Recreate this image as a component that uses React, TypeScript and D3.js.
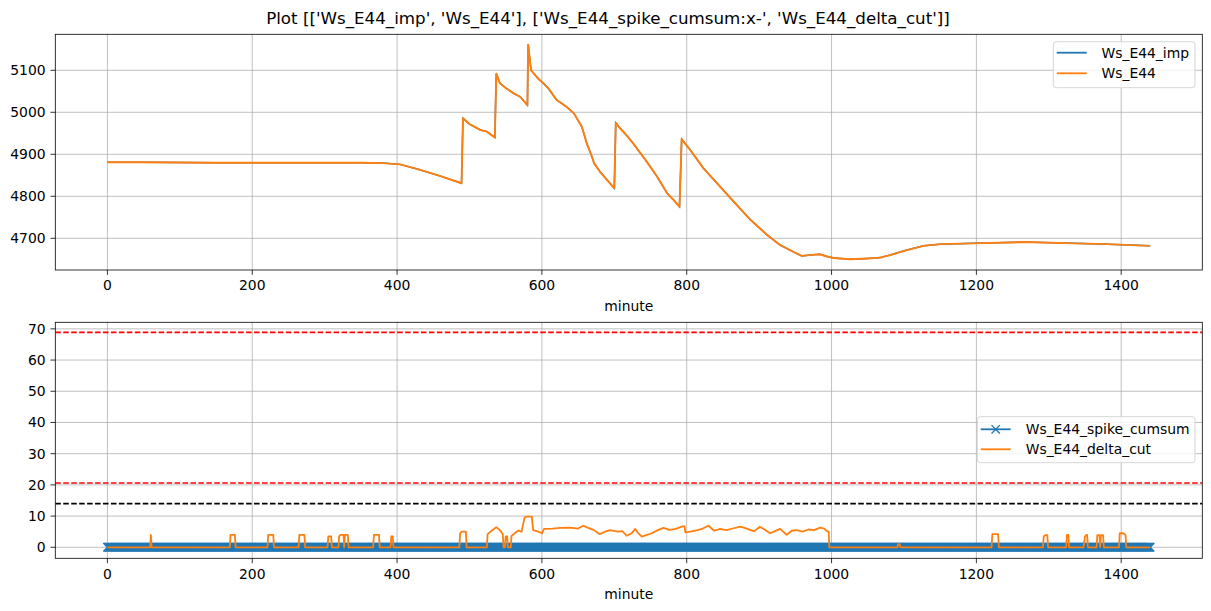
import React from "react";
import * as d3 from "d3";

// ---------- DATA ----------
const xTicks = [0, 200, 400, 600, 800, 1000, 1200, 1400];
const yTicksTop = [4700, 4800, 4900, 5000, 5100];
const yTicksBottom = [0, 10, 20, 30, 40, 50, 60, 70];

// Ws_E44 (and Ws_E44_imp, identical) — minute / value
const wsMinutes = [0, 50, 100, 150, 200, 250, 300, 350, 380, 404, 430, 460, 489, 491, 500, 515, 524, 535, 537, 542, 550, 561, 570, 580, 581, 585, 595, 602, 609, 620, 634, 644, 655, 662, 670, 672, 680, 692, 700, 702, 708, 717, 726, 745, 759, 773, 782, 790, 793, 805, 823, 842, 865, 888, 911, 929, 948, 959, 970, 984, 995, 1003, 1026, 1050, 1067, 1081, 1104, 1127, 1150, 1196, 1265, 1335, 1381, 1440];
const wsValues = [4881, 4881, 4880.5, 4880, 4880, 4880, 4880, 4880, 4879, 4876, 4864, 4848, 4831, 4986, 4972, 4958, 4954, 4940, 5092, 5069, 5058, 5045, 5037, 5017, 5161, 5100, 5080, 5069, 5057, 5030, 5013, 4998, 4966, 4926, 4890, 4879, 4859, 4835, 4819, 4975, 4962, 4945, 4926, 4882, 4847, 4807, 4791, 4775, 4936, 4910, 4867, 4831, 4787, 4744, 4708, 4684, 4667, 4658, 4660, 4662, 4656, 4653, 4650, 4652, 4654, 4660, 4672, 4682, 4686, 4688, 4691, 4688, 4686, 4682];

// Ws_E44_delta_cut — minute / value
const deltaMinutes = [0, 59, 60, 61, 169, 170, 176, 177, 221, 222, 229, 230, 264, 265, 272, 273, 304, 305, 309, 310, 319, 320, 322, 326, 327, 328, 332, 333, 367, 368, 375, 376, 391, 392, 394, 395, 486, 487, 489, 495, 496, 524, 525, 530, 537, 542, 546, 547, 549, 550, 552, 553, 557, 558, 563, 567, 572, 576, 578, 586, 588, 595, 600, 603, 615, 625, 639, 650, 657, 664, 672, 680, 687, 694, 705, 711, 717, 724, 729, 732, 738, 745, 752, 760, 768, 776, 785, 793, 797, 798, 805, 815, 822, 830, 838, 846, 855, 865, 874, 883, 893, 901, 908, 915, 922, 929, 938, 945, 952, 960, 968, 976, 984, 990, 994, 996, 997, 1091, 1092, 1094, 1095, 1221, 1222, 1230, 1231, 1292, 1293, 1295, 1298, 1299, 1324, 1325, 1327, 1328, 1348, 1350, 1352, 1353, 1354, 1366, 1367, 1370, 1371, 1372, 1375, 1376, 1397, 1398, 1403, 1406, 1407, 1440];
const deltaValues = [0, 0, 4, 0, 0, 4, 4, 0, 0, 4, 4, 0, 0, 4, 4, 0, 0, 3.5, 3.5, 0, 0, 3.5, 4, 4, 0, 4, 4, 0, 0, 4, 4, 0, 0, 3.5, 3.5, 0, 0, 4.5, 5, 5, 0, 0, 4.2, 5.2, 6.4, 5.5, 4.2, 0, 0, 3.5, 3.5, 0, 0, 3.6, 4.6, 5.3, 5.0, 9.5, 9.8, 9.8, 5.5, 5.0, 4.5, 5.9, 6.0, 6.2, 6.3, 6.0, 6.9, 6.2, 5.5, 4.2, 5.0, 5.5, 5.0, 5.2, 3.7, 4.5, 5.9, 4.8, 3.4, 4.0, 4.5, 5.5, 6.2, 5.6, 5.9, 6.6, 6.8, 4.8, 5.0, 5.5, 6.0, 6.9, 5.3, 5.9, 5.5, 6.1, 6.6, 6.0, 5.1, 6.6, 5.6, 4.5, 5.2, 5.9, 4.0, 5.3, 5.5, 5.0, 5.7, 5.5, 6.3, 6.0, 5.1, 5.0, 0, 0, 1, 1, 0, 0, 4.2, 4.2, 0, 0, 3.5, 3.9, 3.9, 0, 0, 4, 4, 0, 0, 3.5, 4, 4, 0, 0, 3.9, 3.9, 0, 3.9, 3.9, 0, 0, 4.5, 4.5, 3.9, 0, 0];

// Ws_E44_spike_cumsum — zero at every minute 0..1440
const spikeMinutes = d3.range(0, 1441);
const spikeValues = spikeMinutes.map(() => 0);

// horizontal reference lines
const redLevels = [68.9, 20.6];
const blackLevels = [14.0];

const titleText = "Plot [['Ws_E44_imp', 'Ws_E44'], ['Ws_E44_spike_cumsum:x-', 'Ws_E44_delta_cut']]";

// ---------- LAYOUT ----------
const W = 1211, H = 611;
const L = 55.3, R = 1202.3;
const topY0 = 34.3, topY1 = 270;
const botY0 = 322.3, botY1 = 558.3;
const FONT = "DejaVu Sans, sans-serif";
const FS = 13.9;
const BLUE = "#1f77b4", ORANGE = "#ff7f0e", GRID = "#b0b0b0";

const x = d3.scaleLinear().domain([-72, 1512]).range([L, R]);
const yTop = d3.scaleLinear().domain([4624.5, 5185.7]).range([topY1, topY0]);
const yBot = d3.scaleLinear().domain([-3.53, 72.1]).range([botY1, botY0]);

function Axes({ y, y0, y1, yTicks }: { y: d3.ScaleLinear<number, number>; y0: number; y1: number; yTicks: number[] }) {
  return (
    <g>
      {xTicks.map((t) => (
        <line key={"gx" + t} x1={x(t)} x2={x(t)} y1={y0} y2={y1} stroke={GRID} strokeWidth={0.8} />
      ))}
      {yTicks.map((t) => (
        <line key={"gy" + t} x1={L} x2={R} y1={y(t)} y2={y(t)} stroke={GRID} strokeWidth={0.8} />
      ))}
    </g>
  );
}

function Frame({ y, y0, y1, yTicks }: { y: d3.ScaleLinear<number, number>; y0: number; y1: number; yTicks: number[] }) {
  return (
    <g fontFamily={FONT} fontSize={FS} fill="#000">
      <rect x={L} y={y0} width={R - L} height={y1 - y0} fill="none" stroke="#000" strokeWidth={0.8} />
      {xTicks.map((t) => (
        <g key={"tx" + t}>
          <line x1={x(t)} x2={x(t)} y1={y1} y2={y1 + 4.86} stroke="#000" strokeWidth={0.8} />
          <text x={x(t)} y={y1 + 20.3} textAnchor="middle">{t}</text>
        </g>
      ))}
      {yTicks.map((t) => (
        <g key={"ty" + t}>
          <line x1={L - 4.86} x2={L} y1={y(t)} y2={y(t)} stroke="#000" strokeWidth={0.8} />
          <text x={L - 9.7} y={y(t) + 5} textAnchor="end">{t}</text>
        </g>
      ))}
      <text x={(L + R) / 2} y={y1 + 41} textAnchor="middle">minute</text>
    </g>
  );
}

export default function App() {
  const lineTop = d3.line<number>().x((_, i) => x(wsMinutes[i])).y((d) => yTop(d));
  const lineDelta = d3.line<number>().x((_, i) => x(deltaMinutes[i])).y((d) => yBot(d));
  const lineSpike = d3.line<number>().x((_, i) => x(spikeMinutes[i])).y((d) => yBot(d));
  const ms = 4.17;
  const markerPath = spikeValues
    .map((v, i) => {
      const cx = x(spikeMinutes[i]), cy = yBot(v);
      return `M${cx - ms},${cy - ms}L${cx + ms},${cy + ms}M${cx - ms},${cy + ms}L${cx + ms},${cy - ms}`;
    })
    .join("");

  return (
    <svg width={W} height={H} style={{ position: "absolute", left: 0, top: 0, background: "#fff" }}>
      <rect x={0} y={0} width={W} height={H} fill="#fff" />
      <text x={608} y={24} textAnchor="middle" fontFamily={FONT} fontSize={16.7}>{titleText}</text>

      {/* top axes */}
      <Axes y={yTop} y0={topY0} y1={topY1} yTicks={yTicksTop} />
      <defs>
        <clipPath id="clipTop"><rect x={L} y={topY0} width={R - L} height={topY1 - topY0} /></clipPath>
        <clipPath id="clipBot"><rect x={L} y={botY0} width={R - L} height={botY1 - botY0} /></clipPath>
      </defs>
      <g clipPath="url(#clipTop)">
        <path d={lineTop(wsValues) || ""} fill="none" stroke={BLUE} strokeWidth={1.5} />
        <path d={lineTop(wsValues) || ""} fill="none" stroke={ORANGE} strokeWidth={1.9} strokeLinejoin="round" />
      </g>
      <Frame y={yTop} y0={topY0} y1={topY1} yTicks={yTicksTop} />
      <g fontFamily={FONT} fontSize={FS}>
        <rect x={1053.3} y={41.7} width={141.7} height={46} rx={3} fill="#fff" fillOpacity={0.8} stroke="#cccccc" strokeWidth={0.8} />
        <line x1={1056.7} x2={1086.7} y1={52.7} y2={52.7} stroke={BLUE} strokeWidth={1.8} />
        <text x={1101.5} y={57.7}>Ws_E44_imp</text>
        <line x1={1056.7} x2={1086.7} y1={73.3} y2={73.3} stroke={ORANGE} strokeWidth={1.8} />
        <text x={1101.5} y={78.3}>Ws_E44</text>
      </g>

      {/* bottom axes */}
      <Axes y={yBot} y0={botY0} y1={botY1} yTicks={yTicksBottom} />
      <g clipPath="url(#clipBot)">
        <path d={lineSpike(spikeValues) || ""} fill="none" stroke={BLUE} strokeWidth={1.5} />
        <path d={markerPath} fill="none" stroke={BLUE} strokeWidth={1.39} />
        <path d={lineDelta(deltaValues) || ""} fill="none" stroke={ORANGE} strokeWidth={1.8} strokeLinejoin="round" />
        {redLevels.map((v) => (
          <line key={"r" + v} x1={L} x2={R} y1={yBot(v)} y2={yBot(v)} stroke="#ff0000" strokeWidth={1.7} strokeDasharray="5.55,2.4" />
        ))}
        {blackLevels.map((v) => (
          <line key={"k" + v} x1={L} x2={R} y1={yBot(v)} y2={yBot(v)} stroke="#000" strokeWidth={1.7} strokeDasharray="5.55,2.4" />
        ))}
      </g>
      <Frame y={yBot} y0={botY0} y1={botY1} yTicks={yTicksBottom} />
      <g fontFamily={FONT} fontSize={FS}>
        <rect x={977.3} y={416.7} width={217.7} height={46} rx={3} fill="#fff" fillOpacity={0.8} stroke="#cccccc" strokeWidth={0.8} />
        <line x1={980.7} x2={1010.7} y1={429.3} y2={429.3} stroke={BLUE} strokeWidth={1.8} />
        <path d={`M${995.7 - ms},${429.3 - ms}L${995.7 + ms},${429.3 + ms}M${995.7 - ms},${429.3 + ms}L${995.7 + ms},${429.3 - ms}`} stroke={BLUE} strokeWidth={1.39} fill="none" />
        <text x={1025.7} y={434.3}>Ws_E44_spike_cumsum</text>
        <line x1={980.7} x2={1010.7} y1={449.3} y2={449.3} stroke={ORANGE} strokeWidth={1.8} />
        <text x={1025.7} y={454.3}>Ws_E44_delta_cut</text>
      </g>
    </svg>
  );
}
